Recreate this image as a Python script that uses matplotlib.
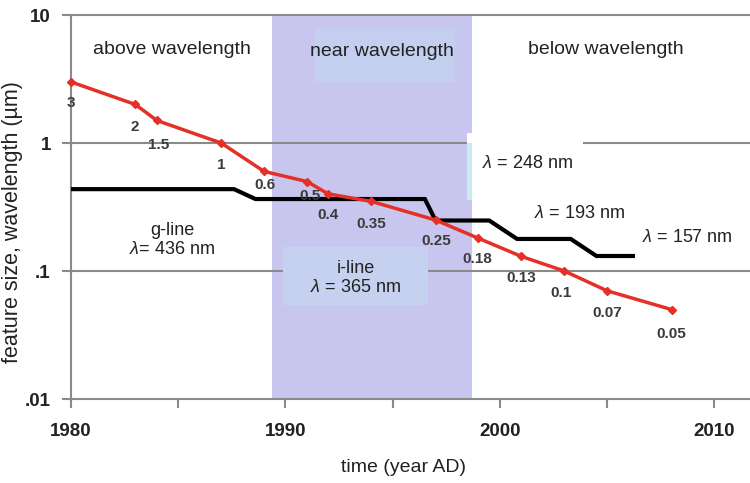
import matplotlib.pyplot as plt
from matplotlib.patches import Rectangle
from matplotlib.ticker import NullLocator

plt.rcParams['font.family'] = ['Liberation Sans', 'DejaVu Sans']
plt.rcParams['mathtext.fontset'] = 'custom'
plt.rcParams['mathtext.rm'] = 'Liberation Sans'
plt.rcParams['mathtext.it'] = 'Liberation Sans:italic'

# === data ===
feat_years = [1980, 1983, 1984, 1987, 1989, 1991, 1992, 1994, 1997, 1999, 2001, 2003, 2005, 2008]
feat_sizes = [3, 2, 1.5, 1, 0.6, 0.5, 0.4, 0.35, 0.25, 0.18, 0.13, 0.1, 0.07, 0.05]
feat_labels = ['3', '2', '1.5', '1', '0.6', '0.5', '0.4', '0.35', '0.25', '0.18', '0.13', '0.1', '0.07', '0.05']

wl_years = [1980, 1987.6, 1988.6, 1996.5, 1997.0, 1999.5, 2000.8, 2003.3, 2004.5, 2006.2]
wl_values = [0.436, 0.436, 0.365, 0.365, 0.248, 0.248, 0.178, 0.178, 0.131, 0.131]

near_start, near_end = 1989.35, 1998.7

y_ticks = [0.01, 0.1, 1, 10]
y_ticklabels = ['.01', '.1', '1', '10']
x_ticks = [1980, 1985, 1990, 1995, 2000, 2005, 2010]
x_ticklabels = ['1980', '', '1990', '', '2000', '', '2010']

# label offsets in pixels (dx, dy) below each point
label_offsets = [(0, -21), (-1, -23), (2, -25), (0, -22), (1, -14), (3, -14), (0, -21),
                 (0, -23), (1, -21), (-1, -21), (0, -22), (-3, -22), (0, -22), (0, -24)]

grey = '#8a8a8a'
red = '#e53027'
txt = '#222222'

# === figure ===
fig = plt.figure(figsize=(7.5, 4.83), dpi=100)
ax = fig.add_axes([71 / 750, 84 / 483, 679 / 750, 384 / 483])
ax.set_yscale('log')
ax.set_xlim(1980, 2011.66)
ax.set_ylim(0.01, 10)

# shaded "near wavelength" band
ax.axvspan(near_start, near_end, color='#c8c6ee', lw=0, zorder=0)

# horizontal grid at decades
for v in y_ticks[1:3]:
    ax.axhline(v, color=grey, lw=1.5, zorder=1)

# text background boxes
ax.add_patch(Rectangle((1991.4, 3.0), 6.5, 4.9, facecolor='#c4cff0', edgecolor='none', zorder=2))
ax.add_patch(Rectangle((1989.9, 0.0543), 6.75, 0.1, facecolor='#c6d1f0', edgecolor='none', zorder=2))
ax.add_patch(Rectangle((1998.45, 0.36), 5.42, 0.84, facecolor='white', edgecolor='none', zorder=2))
ax.add_patch(Rectangle((1998.45, 0.36), near_end - 1998.45, 0.64, facecolor='#c9ecea',
                       edgecolor='none', zorder=2))

# wavelength steps and feature size
ax.plot(wl_years, wl_values, color='black', lw=3, zorder=3, solid_joinstyle='miter')
ax.plot(feat_years, feat_sizes, color=red, lw=2.5, marker='D', ms=4.5, mec=red, zorder=4,
        clip_on=False)

for x, y, s, (dx, dy) in zip(feat_years, feat_sizes, feat_labels, label_offsets):
    ax.annotate(s, (x, y), xytext=(dx, dy), textcoords='offset pixels', ha='center', va='center',
                fontsize=11, fontweight='bold', color='#3b3b3b', zorder=5)

# region and wavelength texts
ax.text(1984.71, 5.33, 'above wavelength', ha='center', va='center', fontsize=14, color=txt, zorder=5)
ax.text(1994.52, 5.17, 'near wavelength', ha='center', va='center', fontsize=14, color=txt, zorder=5)
ax.text(2004.93, 5.33, 'below wavelength', ha='center', va='center', fontsize=14, color=txt, zorder=5)
ax.text(2001.28, 0.693, r'$\lambda$ = 248 nm', ha='center', va='center', fontsize=13, color=txt, zorder=5)
ax.text(2003.73, 0.2825, r'$\lambda$ = 193 nm', ha='center', va='center', fontsize=13, color=txt, zorder=5)
ax.text(2008.74, 0.182, r'$\lambda$ = 157 nm', ha='center', va='center', fontsize=13, color=txt, zorder=5)
ax.text(1984.73, 0.1746, 'g-line\n' + r'$\lambda$= 436 nm', ha='center', va='center', fontsize=13,
        color=txt, linespacing=1.15, zorder=5)
ax.text(1993.28, 0.0882, 'i-line\n' + r'$\lambda$ = 365 nm', ha='center', va='center', fontsize=13,
        color=txt, linespacing=1.15, zorder=5)

# axes styling
for side in ['right']:
    ax.spines[side].set_visible(False)
for side in ['left', 'bottom', 'top']:
    ax.spines[side].set_color(grey)
    ax.spines[side].set_linewidth(1.5)

ax.set_yticks(y_ticks)
ax.set_yticklabels(y_ticklabels)
ax.yaxis.set_minor_locator(NullLocator())
ax.set_xticks(x_ticks)
ax.set_xticklabels(x_ticklabels)
ax.tick_params(axis='y', direction='out', length=6.5, width=1.5, color=grey, pad=8,
               labelsize=13.5, labelcolor=txt)
ax.tick_params(axis='x', direction='out', length=6.5, width=1.5, color=grey, pad=10.5,
               labelsize=13.5, labelcolor=txt)
for lab in ax.get_xticklabels() + ax.get_yticklabels():
    lab.set_fontweight('bold')

fig.text(13 / 750, 1 - 222 / 483, 'feature size, wavelength (\u00b5m)', rotation=90,
         ha='center', va='center', fontsize=15.5, color=txt)
fig.text(404 / 750, 1 - 468 / 483, 'time (year AD)', ha='center', va='center', fontsize=14, color=txt)

fig.savefig('out.png', dpi=100)
